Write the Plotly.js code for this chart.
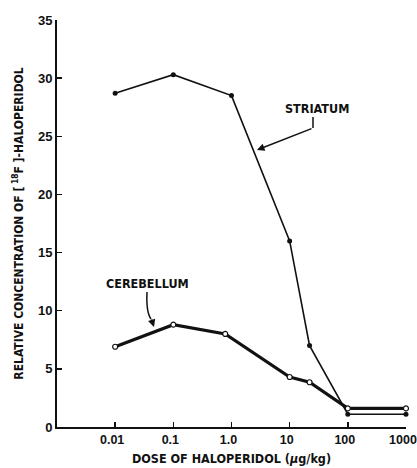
<!DOCTYPE html>
<html>
<head>
<meta charset="utf-8">
<script src="https://cdn.plot.ly/plotly-3.0.1.min.js"></script>
<style>html,body{margin:0;padding:0;background:#fff;}#chart{width:417px;height:468px;}</style>
</head>
<body>
<div id="chart"></div>
<script>
var striatumDose = [0.01, 0.1, 1, 10, 22, 100, 1000];
var striatumConc = [28.7, 30.3, 28.5, 16.0, 7.0, 1.1, 1.1];
var cerebellumDose = [0.01, 0.1, 0.78, 10, 22, 100, 1000];
var cerebellumConc = [6.9, 8.8, 8.0, 4.3, 3.85, 1.6, 1.6];
var xTickVals = [0.01, 0.1, 1, 10, 100, 1000];
var xTickText = ['0.01', '0.1', '1.0', '10', '100', '1000'];
var yTickVals = [0, 5, 10, 15, 20, 25, 30, 35];

var FONT = '"Liberation Sans Narrow", "DejaVu Sans Condensed", Arial, sans-serif';
var TICKFONT = '"Liberation Sans", Arial, sans-serif';
var W = 417, H = 468, L = 57, R = 11, T = 20, B = 41;
function px(x){ return (x - L) / (W - L - R); }
function py(y){ return (H - B - y) / (H - T - B); }

var traces = [
  {x: striatumDose, y: striatumConc, mode: 'lines+markers', type: 'scatter', cliponaxis: false,
   line: {color: '#111', width: 1.6}, marker: {color: '#111', size: 5}},
  {x: cerebellumDose, y: cerebellumConc, mode: 'lines+markers', type: 'scatter', cliponaxis: false,
   line: {color: '#111', width: 3.2}, marker: {color: '#fff', size: 5, line: {color: '#111', width: 1.2}}}
];

var layout = {
  width: W, height: H,
  margin: {l: L, r: R, t: T, b: B},
  paper_bgcolor: '#fff', plot_bgcolor: '#fff',
  showlegend: false,
  font: {family: FONT, color: '#111', size: 12},
  xaxis: {
    type: 'log', range: [-3, 3.0005], tickvals: xTickVals, ticktext: xTickText,
    ticklabeloverflow: 'allow', ticklabelshift: -3,
    ticks: 'inside', ticklen: 5, tickwidth: 1.5, tickcolor: '#111',
    showline: true, linecolor: '#111', linewidth: 2, showgrid: false, zeroline: false,
    tickfont: {family: TICKFONT, size: 12.5, weight: 'bold'},
    title: {text: 'DOSE OF HALOPERIDOL (<i>μ</i>g/kg)', font: {family: FONT, size: 12.5, weight: 'bold'}, standoff: 8}
  },
  yaxis: {
    range: [0, 35], tickvals: yTickVals,
    ticks: 'inside', ticklen: 5, tickwidth: 1.5, tickcolor: '#111',
    showline: true, linecolor: '#111', linewidth: 2, showgrid: false, zeroline: false,
    tickfont: {family: TICKFONT, size: 13, weight: 'bold'},
    title: {text: 'RELATIVE CONCENTRATION OF [<sup> 18</sup>F ]-HALOPERIDOL', font: {family: FONT, size: 12, weight: 'bold'}, standoff: 12}
  },
  shapes: [
    {type: 'line', xref: 'paper', yref: 'paper', x0: px(313), y0: py(117), x1: px(313), y1: py(128), line: {color: '#111', width: 1.5}},
    {type: 'path', xref: 'paper', yref: 'paper',
     path: 'M ' + px(147) + ' ' + py(292) + ' Q ' + px(146) + ' ' + py(312) + ' ' + px(151) + ' ' + py(319),
     line: {color: '#111', width: 1.5}}
  ],
  annotations: [
    {xref: 'paper', yref: 'paper', x: px(317), y: py(109), xanchor: 'center', yanchor: 'middle',
     text: '<b>STRIATUM</b>', showarrow: false, font: {family: FONT, size: 12.5}},
    {xref: 'paper', yref: 'paper', x: px(147), y: py(283), xanchor: 'center', yanchor: 'middle',
     text: '<b>CEREBELLUM</b>', showarrow: false, font: {family: FONT, size: 12.5}},
    {xref: 'paper', yref: 'paper', x: px(257), y: py(150), ax: 56, ay: -22, text: '', showarrow: true,
     arrowhead: 2, arrowsize: 1, arrowwidth: 1.5, arrowcolor: '#111'},
    {xref: 'paper', yref: 'paper', x: px(154), y: py(327), ax: -3, ay: -9, text: '', showarrow: true,
     arrowhead: 2, arrowsize: 1, arrowwidth: 1.5, arrowcolor: '#111'}
  ]
};

Plotly.newPlot('chart', traces, layout, {displayModeBar: false, staticPlot: true});
</script>
</body>
</html>
